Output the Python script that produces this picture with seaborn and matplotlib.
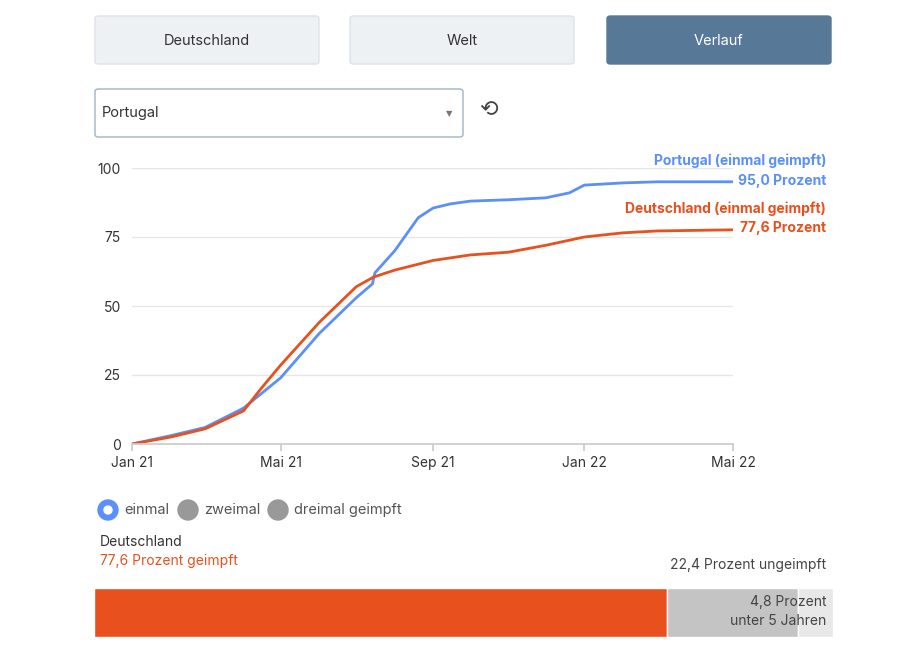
import matplotlib
matplotlib.use("Agg")
import matplotlib.pyplot as plt
import matplotlib.dates as mdates
from matplotlib.patches import FancyBboxPatch, Circle
import seaborn as sns
import pandas as pd
import numpy as np

sns.set_theme(style="white")
plt.rcParams['font.family'] = ['Inter', 'DejaVu Sans']

pt_dates = ["2021-01-01","2021-02-01","2021-03-01","2021-04-01","2021-05-01","2021-06-01","2021-07-01","2021-07-14","2021-07-16","2021-08-01","2021-08-20","2021-09-01","2021-09-15","2021-10-01","2021-11-01","2021-12-01","2021-12-20","2022-01-01","2022-02-01","2022-03-01","2022-05-01"]
pt_vals = [0,3,6,13,24,40,53,58,62,70,82,85.5,87,88,88.5,89.2,91,93.8,94.6,95,95]
de_dates = ["2021-01-01","2021-02-01","2021-03-01","2021-04-01","2021-04-15","2021-05-01","2021-06-01","2021-07-01","2021-07-15","2021-08-01","2021-09-01","2021-10-01","2021-11-01","2021-12-01","2022-01-01","2022-02-01","2022-03-01","2022-05-01"]
de_vals = [0,2.5,5.5,12,20,28.6,44,57,60.5,63,66.5,68.5,69.5,72,75,76.5,77.2,77.6]
bar_labels = ["geimpft", "ungeimpft", "unter 5 Jahren"]
bar_vals = [77.6, 17.6, 4.8]

BLUE = "#5b8ff9"; ORANGE = "#e8501e"
W, H = 900, 650
fig = plt.figure(figsize=(9, 6.5), dpi=100)

def fx(x): return x / W
def fy(y): return 1 - y / H

# buttons
for x0, label, sel in [(95, "Deutschland", False), (350, "Welt", False), (607, "Verlauf", True)]:
    fig.patches.append(FancyBboxPatch((fx(x0), fy(64)), fx(224), 48/H, boxstyle="round,pad=0,rounding_size=0.004",
                       transform=fig.transFigure, facecolor="#587897" if sel else "#eef1f4",
                       edgecolor="#587897" if sel else "#dde3ea", lw=1))
    fig.text(fx(x0 + 112), fy(41), label, ha="center", va="center", fontsize=10.5,
             color="white" if sel else "#333333")
fig.patches.append(FancyBboxPatch((fx(95), fy(137)), fx(368), 48/H, boxstyle="round,pad=0,rounding_size=0.004",
                   transform=fig.transFigure, facecolor="white", edgecolor="#9fb2c8", lw=1))
fig.text(fx(102), fy(113), "Portugal", ha="left", va="center", fontsize=10.5, color="#333333")
fig.text(fx(449), fy(114), "▼", ha="center", va="center", fontsize=6, color="#777777", family="DejaVu Sans")
fig.text(fx(488), fy(110), "⟲", ha="center", va="center", fontsize=16, color="#444444", family="DejaVu Sans")

# main chart
ax = fig.add_axes([fx(132), fy(444), fx(601), 276/H])
dfp = pd.DataFrame({"date": pd.to_datetime(pt_dates), "v": pt_vals})
dfd = pd.DataFrame({"date": pd.to_datetime(de_dates), "v": de_vals})
sns.lineplot(data=dfp, x="date", y="v", ax=ax, color=BLUE, lw=2)
sns.lineplot(data=dfd, x="date", y="v", ax=ax, color=ORANGE, lw=2)
ax.set_xlim(pd.Timestamp("2021-01-01"), pd.Timestamp("2022-05-01"))
ax.set_ylim(0, 100)
ax.set_yticks([0, 25, 50, 75, 100])
ax.yaxis.grid(True, color="#e6e6e6", lw=1)
ax.set_xticks(pd.to_datetime(["2021-01-01", "2021-05-01", "2021-09-01", "2022-01-01", "2022-05-01"]))
ax.set_xticklabels(["Jan 21", "Mai 21", "Sep 21", "Jan 22", "Mai 22"])
ax.tick_params(axis="x", length=5, color="#cccccc", labelsize=10, labelcolor="#333333", bottom=True)
ax.tick_params(axis="y", length=0, labelsize=10, labelcolor="#333333", pad=8)
for s in ["top", "right", "left"]:
    ax.spines[s].set_visible(False)
ax.spines["bottom"].set_color("#cccccc")
ax.set_xlabel(""); ax.set_ylabel("")

fig.text(fx(826), fy(161), "Portugal (einmal geimpft)", ha="right", va="center", fontsize=10, color=BLUE, weight="bold")
fig.text(fx(826), fy(181), "95,0 Prozent", ha="right", va="center", fontsize=10, color=BLUE, weight="bold")
fig.text(fx(826), fy(209), "Deutschland (einmal geimpft)", ha="right", va="center", fontsize=10, color=ORANGE, weight="bold")
fig.text(fx(826), fy(228), "77,6 Prozent", ha="right", va="center", fontsize=10, color=ORANGE, weight="bold")

# radio
axr = fig.add_axes([0, 0, 1, 1], facecolor="none"); axr.set_xlim(0, W); axr.set_ylim(H, 0); axr.axis("off")
axr.add_patch(Circle((108, 510), 10, color=BLUE)); axr.add_patch(Circle((108, 510), 4, color="white"))
axr.add_patch(Circle((188, 510), 10, color="#999999")); axr.add_patch(Circle((278, 510), 10, color="#999999"))
for x, t in [(124, "einmal"), (204, "zweimal"), (294, "dreimal geimpft")]:
    fig.text(fx(x), fy(510), t, ha="left", va="center", fontsize=10.5, color="#555555")
fig.text(fx(100), fy(542), "Deutschland", ha="left", va="center", fontsize=10, color="#333333")
fig.text(fx(100), fy(561), "77,6 Prozent geimpft", ha="left", va="center", fontsize=10, color=ORANGE)
fig.text(fx(826), fy(565), "22,4 Prozent ungeimpft", ha="right", va="center", fontsize=10, color="#444444")

# bar
axb = fig.add_axes([fx(94), fy(637), fx(739), 49/H])
left = 0
for v, c in zip(bar_vals, [ORANGE, "#c4c4c4", "#e8e8e8"]):
    axb.barh([0], [v], left=left, color=c, height=1, edgecolor="white", lw=1)
    left += v
axb.set_xlim(0, 100); axb.set_ylim(-0.5, 0.5); axb.axis("off")
fig.text(fx(826), fy(602), "4,8 Prozent", ha="right", va="center", fontsize=10, color="#444444")
fig.text(fx(826), fy(621), "unter 5 Jahren", ha="right", va="center", fontsize=10, color="#444444")

fig.savefig("out.png", dpi=100)
